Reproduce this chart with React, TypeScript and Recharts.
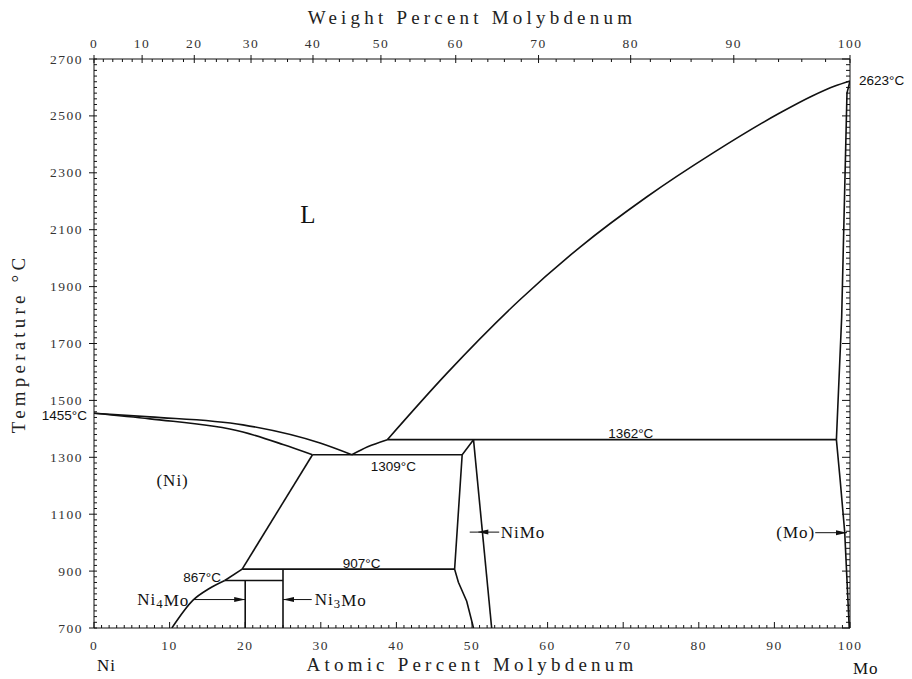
import React from 'react';
import { ComposedChart, Line, XAxis, YAxis, ReferenceDot } from 'recharts';

type Pt = { x: number; t: number };

// phase boundaries: x = atomic % Mo, t = temperature in °C
const liquidusNi: Pt[] = [
  { x: 0, t: 1455 }, { x: 7.4, t: 1442 }, { x: 19.7, t: 1414 }, { x: 29.9, t: 1350 }, { x: 34.1, t: 1309 },
];
const solidusNi: Pt[] = [
  { x: 0, t: 1455 }, { x: 7.4, t: 1435 }, { x: 19.7, t: 1389 }, { x: 25, t: 1345 }, { x: 28.9, t: 1309 },
];
const liquidusEut: Pt[] = [{ x: 34.1, t: 1309 }, { x: 36.2, t: 1337 }, { x: 38.8, t: 1362 }];
const liquidusMo: Pt[] = [
  { x: 38.8, t: 1362 }, { x: 46.7, t: 1596 }, { x: 56.3, t: 1853 }, { x: 64.3, t: 2039 },
  { x: 73.1, t: 2215 }, { x: 81.9, t: 2370 }, { x: 90.7, t: 2510 }, { x: 95, t: 2570 },
  { x: 98, t: 2605 }, { x: 100, t: 2623 },
];
const solidusMo: Pt[] = [{ x: 98.2, t: 1362 }, { x: 98.9, t: 1793 }, { x: 99.6, t: 2580 }, { x: 100, t: 2623 }];
const solvusMo: Pt[] = [{ x: 98.2, t: 1362 }, { x: 98.7, t: 1220 }, { x: 99.3, t: 1037 }, { x: 99.9, t: 700 }];
const peritectic1362: Pt[] = [{ x: 38.8, t: 1362 }, { x: 98.2, t: 1362 }];
const eutectic1309: Pt[] = [{ x: 28.9, t: 1309 }, { x: 48.7, t: 1309 }];
const solvusNiHigh: Pt[] = [{ x: 28.9, t: 1309 }, { x: 19.6, t: 907 }];
const solvusNiMid: Pt[] = [{ x: 17.3, t: 867 }, { x: 19.6, t: 907 }];
const solvusNiLow: Pt[] = [{ x: 10.3, t: 700 }, { x: 13.1, t: 798 }, { x: 15.2, t: 838 }, { x: 17.3, t: 867 }];
const peritectoid907: Pt[] = [{ x: 19.6, t: 907 }, { x: 47.7, t: 907 }];
const peritectoid867: Pt[] = [{ x: 17.3, t: 867 }, { x: 25, t: 867 }];
const ni3mo: Pt[] = [{ x: 25, t: 907 }, { x: 25, t: 700 }];
const ni4mo: Pt[] = [{ x: 20, t: 867 }, { x: 20, t: 700 }];
const niMoLeft: Pt[] = [
  { x: 50.2, t: 1362 }, { x: 48.7, t: 1309 }, { x: 47.7, t: 907 }, { x: 48.2, t: 861 },
  { x: 49.3, t: 794 }, { x: 50.2, t: 700 },
];
const niMoRight: Pt[] = [{ x: 50.2, t: 1362 }, { x: 52.6, t: 700 }];

const boundaries: { id: string; data: Pt[]; curve: 'monotone' | 'linear' }[] = [
  { id: 'liqNi', data: liquidusNi, curve: 'monotone' },
  { id: 'solNi', data: solidusNi, curve: 'monotone' },
  { id: 'liqEut', data: liquidusEut, curve: 'monotone' },
  { id: 'liqMo', data: liquidusMo, curve: 'monotone' },
  { id: 'solMo', data: solidusMo, curve: 'linear' },
  { id: 'svMo', data: solvusMo, curve: 'linear' },
  { id: 'p1362', data: peritectic1362, curve: 'linear' },
  { id: 'e1309', data: eutectic1309, curve: 'linear' },
  { id: 'svNiHi', data: solvusNiHigh, curve: 'linear' },
  { id: 'svNiMid', data: solvusNiMid, curve: 'linear' },
  { id: 'svNiLo', data: solvusNiLow, curve: 'monotone' },
  { id: 'p907', data: peritectoid907, curve: 'linear' },
  { id: 'p867', data: peritectoid867, curve: 'linear' },
  { id: 'ni3mo', data: ni3mo, curve: 'linear' },
  { id: 'ni4mo', data: ni4mo, curve: 'linear' },
  { id: 'nimoL', data: niMoLeft, curve: 'linear' },
  { id: 'nimoR', data: niMoRight, curve: 'linear' },
];

// pointer arrows to the line compounds
const arrows: { id: string; data: Pt[]; head: number; dir: 'left' | 'right' }[] = [
  { id: 'aNi4Mo', data: [{ x: 13.1, t: 800 }, { x: 20, t: 800 }], head: 1, dir: 'right' },
  { id: 'aNi3Mo', data: [{ x: 25, t: 800 }, { x: 28.8, t: 800 }], head: 0, dir: 'left' },
  { id: 'aNiMo', data: [{ x: 49.7, t: 1037 }, { x: 50.7, t: 1037 }, { x: 53.6, t: 1037 }], head: 1, dir: 'left' },
  { id: 'aMo', data: [{ x: 95.4, t: 1035 }, { x: 99.6, t: 1035 }], head: 1, dir: 'right' },
];

// ticks
const atMajor = [0, 10, 20, 30, 40, 50, 60, 70, 80, 90, 100];
const atTicks = Array.from({ length: 101 }, (_, i) => i);
const tempMajor = [700, 900, 1100, 1300, 1500, 1700, 1900, 2100, 2300, 2500, 2700];
const tempTicks = Array.from({ length: 101 }, (_, i) => 700 + i * 20);
const wtMajor = [0, 10, 20, 30, 40, 50, 60, 70, 80, 90, 100];
const wtMinor = Array.from({ length: 51 }, (_, i) => i * 2);

// weight % Mo -> atomic % Mo (Mo 95.95, Ni 58.69)
const wtToAt = (w: number) => {
  const mo = w / 95.95;
  const ni = (100 - w) / 58.69;
  return (mo / (mo + ni)) * 100;
};
const wtTickList = wtMinor.map((w) => ({ w, at: wtToAt(w) }));
// span of the top scale, so the weight axis gets its own domain
const wtSpan: Pt[] = [{ x: 0, t: 700 }, { x: 100, t: 700 }];

type Note = { x: number; t: number; text: string; sub?: string; post?: string; kind: 'big' | 'phase' | 'temp'; anchor: 'start' | 'middle' | 'end'; dx?: number; dy?: number };

const notes: Note[] = [
  { x: 28.3, t: 2152, text: 'L', kind: 'big', anchor: 'middle' },
  { x: 10.4, t: 1217, text: '(Ni)', kind: 'phase', anchor: 'middle' },
  { x: 12.6, t: 800, text: 'Ni', sub: '4', post: 'Mo', kind: 'phase', anchor: 'end' },
  { x: 29.2, t: 800, text: 'Ni', sub: '3', post: 'Mo', kind: 'phase', anchor: 'start' },
  { x: 53.8, t: 1037, text: 'NiMo', kind: 'phase', anchor: 'start' },
  { x: 95.4, t: 1037, text: '(Mo)', kind: 'phase', anchor: 'end' },
  { x: 0, t: 1455, text: '1455°C', kind: 'temp', anchor: 'end', dx: -7, dy: 2 },
  { x: 100, t: 2623, text: '2623°C', kind: 'temp', anchor: 'start', dx: 9 },
  { x: 71, t: 1383, text: '1362°C', kind: 'temp', anchor: 'middle' },
  { x: 39.6, t: 1269, text: '1309°C', kind: 'temp', anchor: 'middle' },
  { x: 35.4, t: 928, text: '907°C', kind: 'temp', anchor: 'middle' },
  { x: 14.3, t: 879, text: '867°C', kind: 'temp', anchor: 'middle' },
  { x: 0, t: 700, text: 'Ni', kind: 'phase', anchor: 'start', dx: 3, dy: 37 },
  { x: 100, t: 700, text: 'Mo', kind: 'phase', anchor: 'start', dx: 3, dy: 40 },
];

const serif = '"Liberation Serif", "DejaVu Serif", serif';
const sans = '"Liberation Sans", Arial, sans-serif';
const ink = '#111';

const renderNote = (n: Note) => (p: any) => {
  const size = n.kind === 'big' ? 25 : n.kind === 'phase' ? 17 : 13.5;
  const family = n.kind === 'temp' ? sans : serif;
  return (
    <text
      x={p.cx + (n.dx || 0)}
      y={p.cy + (n.dy || 0)}
      textAnchor={n.anchor}
      dominantBaseline="central"
      fontFamily={family}
      fontSize={size}
      letterSpacing={n.kind === 'phase' ? 1 : 0}
      fill={ink}
    >
      {n.text}
      {n.sub ? <tspan dy={4} fontSize={size * 0.75}>{n.sub}</tspan> : null}
      {n.post ? <tspan dy={-4}>{n.post}</tspan> : null}
    </text>
  );
};

const tickFont = { fontFamily: serif, fontSize: 13.5, letterSpacing: 1.5, fill: '#333' };

const BottomTick = (props: any) => {
  const { x, y, payload } = props;
  const major = atMajor.includes(payload.value);
  return (
    <g>
      <line x1={x} y1={y} x2={x} y2={y - (major ? 6 : 3)} stroke={ink} strokeWidth={1} />
      {major ? (
        <text x={x} y={y + 17} textAnchor="middle" dominantBaseline="central" {...tickFont}>{payload.value}</text>
      ) : null}
    </g>
  );
};

const TopTick = (props: any) => {
  const { x, y, payload } = props;
  const item = wtTickList.find((d) => Math.abs(d.at - payload.value) < 1e-6);
  const w = item ? item.w : -1;
  const major = wtMajor.includes(w);
  return (
    <g>
      <line x1={x} y1={major ? y - 4 : y} x2={x} y2={y + (major ? 4 : 3)} stroke={ink} strokeWidth={1} />
      {major ? (
        <text x={x} y={y - 16} textAnchor="middle" dominantBaseline="central" {...tickFont}>{w}</text>
      ) : null}
    </g>
  );
};

const LeftTick = (props: any) => {
  const { x, y, payload } = props;
  const major = tempMajor.includes(payload.value);
  return (
    <g>
      <line x1={major ? x - 5 : x} y1={y} x2={x + 3} y2={y} stroke={ink} strokeWidth={1} />
      {major ? (
        <text x={x - 11} y={y} textAnchor="end" dominantBaseline="central" {...tickFont}>{payload.value}</text>
      ) : null}
    </g>
  );
};

const RightTick = (props: any) => {
  const { x, y, payload } = props;
  const major = tempMajor.includes(payload.value);
  return <line x1={x} y1={y} x2={x - (major ? 8 : 4)} y2={y} stroke={ink} strokeWidth={1} />;
};

const titleFont = { fontFamily: serif, fontSize: 19, letterSpacing: 4.2, fill: '#222' };

export default function App() {
  return (
    <div style={{ position: 'absolute', left: 0, top: 0, width: 912, height: 679, background: '#fff' }}>
      <ComposedChart width={912} height={679} margin={{ top: 29, right: 52, bottom: 21, left: 34 }}>
        <XAxis
          xAxisId="at"
          type="number"
          dataKey="x"
          domain={[0, 100]}
          allowDataOverflow
          ticks={atTicks}
          interval={0}
          tickSize={0}
          tickMargin={0}
          tickLine={false}
          tick={BottomTick}
          axisLine={{ stroke: ink }}
          height={30}
          label={{ value: 'Atomic Percent Molybdenum', position: 'bottom', offset: 0, ...titleFont }}
        />
        <XAxis
          xAxisId="wt"
          orientation="top"
          type="number"
          dataKey="x"
          domain={[0, 100]}
          allowDataOverflow
          ticks={wtTickList.map((d) => d.at)}
          interval={0}
          tickSize={0}
          tickMargin={0}
          tickLine={false}
          tick={TopTick}
          axisLine={{ stroke: ink }}
          height={30}
          label={{ value: 'Weight Percent Molybdenum', position: 'top', offset: 5, ...titleFont }}
        />
        <YAxis
          yAxisId="t"
          type="number"
          domain={[700, 2700]}
          allowDataOverflow
          ticks={tempTicks}
          interval={0}
          tickSize={0}
          tickMargin={0}
          tickLine={false}
          tick={LeftTick}
          axisLine={{ stroke: ink }}
          width={60}
          label={{ value: 'Temperature °C', angle: -90, position: 'left', offset: 16, style: { textAnchor: 'middle' }, ...titleFont }}
        />
        <YAxis
          yAxisId="r"
          orientation="right"
          type="number"
          domain={[700, 2700]}
          allowDataOverflow
          ticks={tempTicks}
          interval={0}
          tickSize={0}
          tickMargin={0}
          tickLine={false}
          tick={RightTick}
          axisLine={{ stroke: ink }}
          width={10}
        />
        <Line
          xAxisId="wt"
          yAxisId="t"
          data={wtSpan}
          dataKey="t"
          stroke="none"
          dot={false}
          activeDot={false}
          isAnimationActive={false}
        />
        {boundaries.map((b) => (
          <Line
            key={b.id}
            xAxisId="at"
            yAxisId="t"
            data={b.data}
            dataKey="t"
            type={b.curve}
            stroke={ink}
            strokeWidth={1.6}
            dot={false}
            activeDot={false}
            isAnimationActive={false}
          />
        ))}
        {arrows.map((a) => (
          <Line
            key={a.id}
            xAxisId="at"
            yAxisId="t"
            data={a.data}
            dataKey="t"
            type="linear"
            stroke={ink}
            strokeWidth={1}
            activeDot={false}
            isAnimationActive={false}
            dot={(p: any) =>
              p.index === a.head ? (
                <polygon
                  key={p.index}
                  points={
                    a.dir === 'right'
                      ? `${p.cx},${p.cy} ${p.cx - 11},${p.cy - 2.5} ${p.cx - 11},${p.cy + 2.5}`
                      : `${p.cx},${p.cy} ${p.cx + 11},${p.cy - 2.5} ${p.cx + 11},${p.cy + 2.5}`
                  }
                  fill={ink}
                />
              ) : (
                <g key={p.index} />
              )
            }
          />
        ))}
        {notes.map((n, i) => (
          <ReferenceDot
            key={'n' + i}
            xAxisId="at"
            yAxisId="t"
            x={n.x}
            y={n.t}
            r={0}
            ifOverflow="visible"
            shape={renderNote(n)}
          />
        ))}
      </ComposedChart>
    </div>
  );
}
